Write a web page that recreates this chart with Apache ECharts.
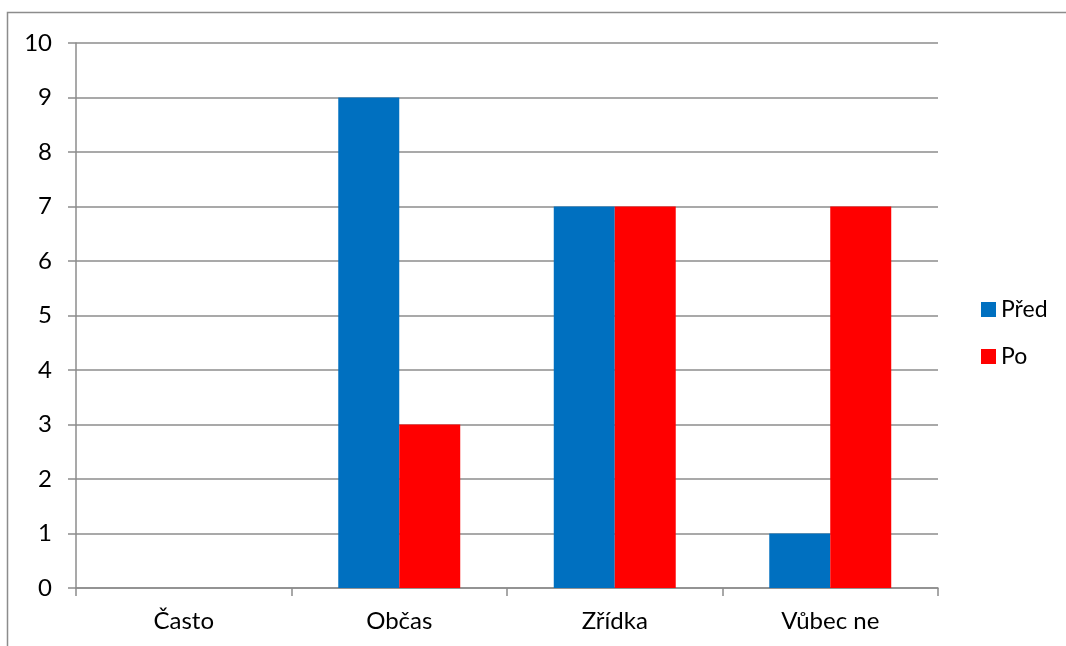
<!DOCTYPE html>
<html>
<head>
<meta charset="utf-8">
<script src="https://cdn.jsdelivr.net/npm/echarts@6/dist/echarts.min.js"></script>
<style>
  html, body { margin: 0; padding: 0; background: #fff; }
  #chart { width: 1066px; height: 646px; }
</style>
</head>
<body>
<div id="chart"></div>
<script>
// Answer frequency before and after
const categories = ['Často', 'Občas', 'Zřídka', 'Vůbec ne'];
const seriesNames = ['Před', 'Po'];
const predValues = [0, 9, 7, 1];
const poValues = [0, 3, 7, 7];
const yTicks = { min: 0, max: 10, interval: 1 };

const FONT = 'Lato, "Open Sans", sans-serif';
const GRID_COLOR = '#8c8c8c';

const chart = echarts.init(document.getElementById('chart'), null, { renderer: 'canvas' });

chart.setOption({
  animation: false,
  textStyle: { fontFamily: FONT },
  graphic: [{
    type: 'polyline',
    shape: { points: [[7.5, 646], [7.5, 12.5], [1066, 12.5]] },
    style: { stroke: '#8c8c8c', lineWidth: 1.5, fill: null },
    silent: true
  }],
  grid: { left: 76, right: 128, top: 43, bottom: 58, containLabel: false },
  legend: {
    orient: 'vertical',
    left: 981,
    top: 298,
    padding: 0,
    itemWidth: 15,
    itemHeight: 15,
    itemGap: 24,
    icon: 'rect',
    textStyle: { fontSize: 23, color: '#000', fontFamily: FONT },
    data: seriesNames
  },
  xAxis: {
    type: 'category',
    data: categories,
    axisLine: { lineStyle: { color: GRID_COLOR, width: 1.5 } },
    axisTick: { show: true, alignWithLabel: false, length: 8, lineStyle: { color: GRID_COLOR, width: 1.5 } },
    axisLabel: { color: '#000', fontSize: 24, margin: 21, fontFamily: FONT }
  },
  yAxis: {
    type: 'value',
    min: yTicks.min,
    max: yTicks.max,
    interval: yTicks.interval,
    axisLine: { show: true, lineStyle: { color: GRID_COLOR, width: 1.5 } },
    axisTick: { show: true, length: 8, lineStyle: { color: GRID_COLOR, width: 1.5 } },
    axisLabel: { color: '#000', fontSize: 24, margin: 24, fontFamily: FONT },
    splitLine: { show: true, lineStyle: { color: GRID_COLOR, width: 1.5 } }
  },
  series: [
    {
      name: seriesNames[0],
      type: 'bar',
      data: predValues,
      barGap: '0%',
      barCategoryGap: '43.4%',
      itemStyle: { color: '#0070C0' }
    },
    {
      name: seriesNames[1],
      type: 'bar',
      data: poValues,
      barGap: '0%',
      barCategoryGap: '43.4%',
      itemStyle: { color: '#FF0000' }
    }
  ]
});
</script>
</body>
</html>
